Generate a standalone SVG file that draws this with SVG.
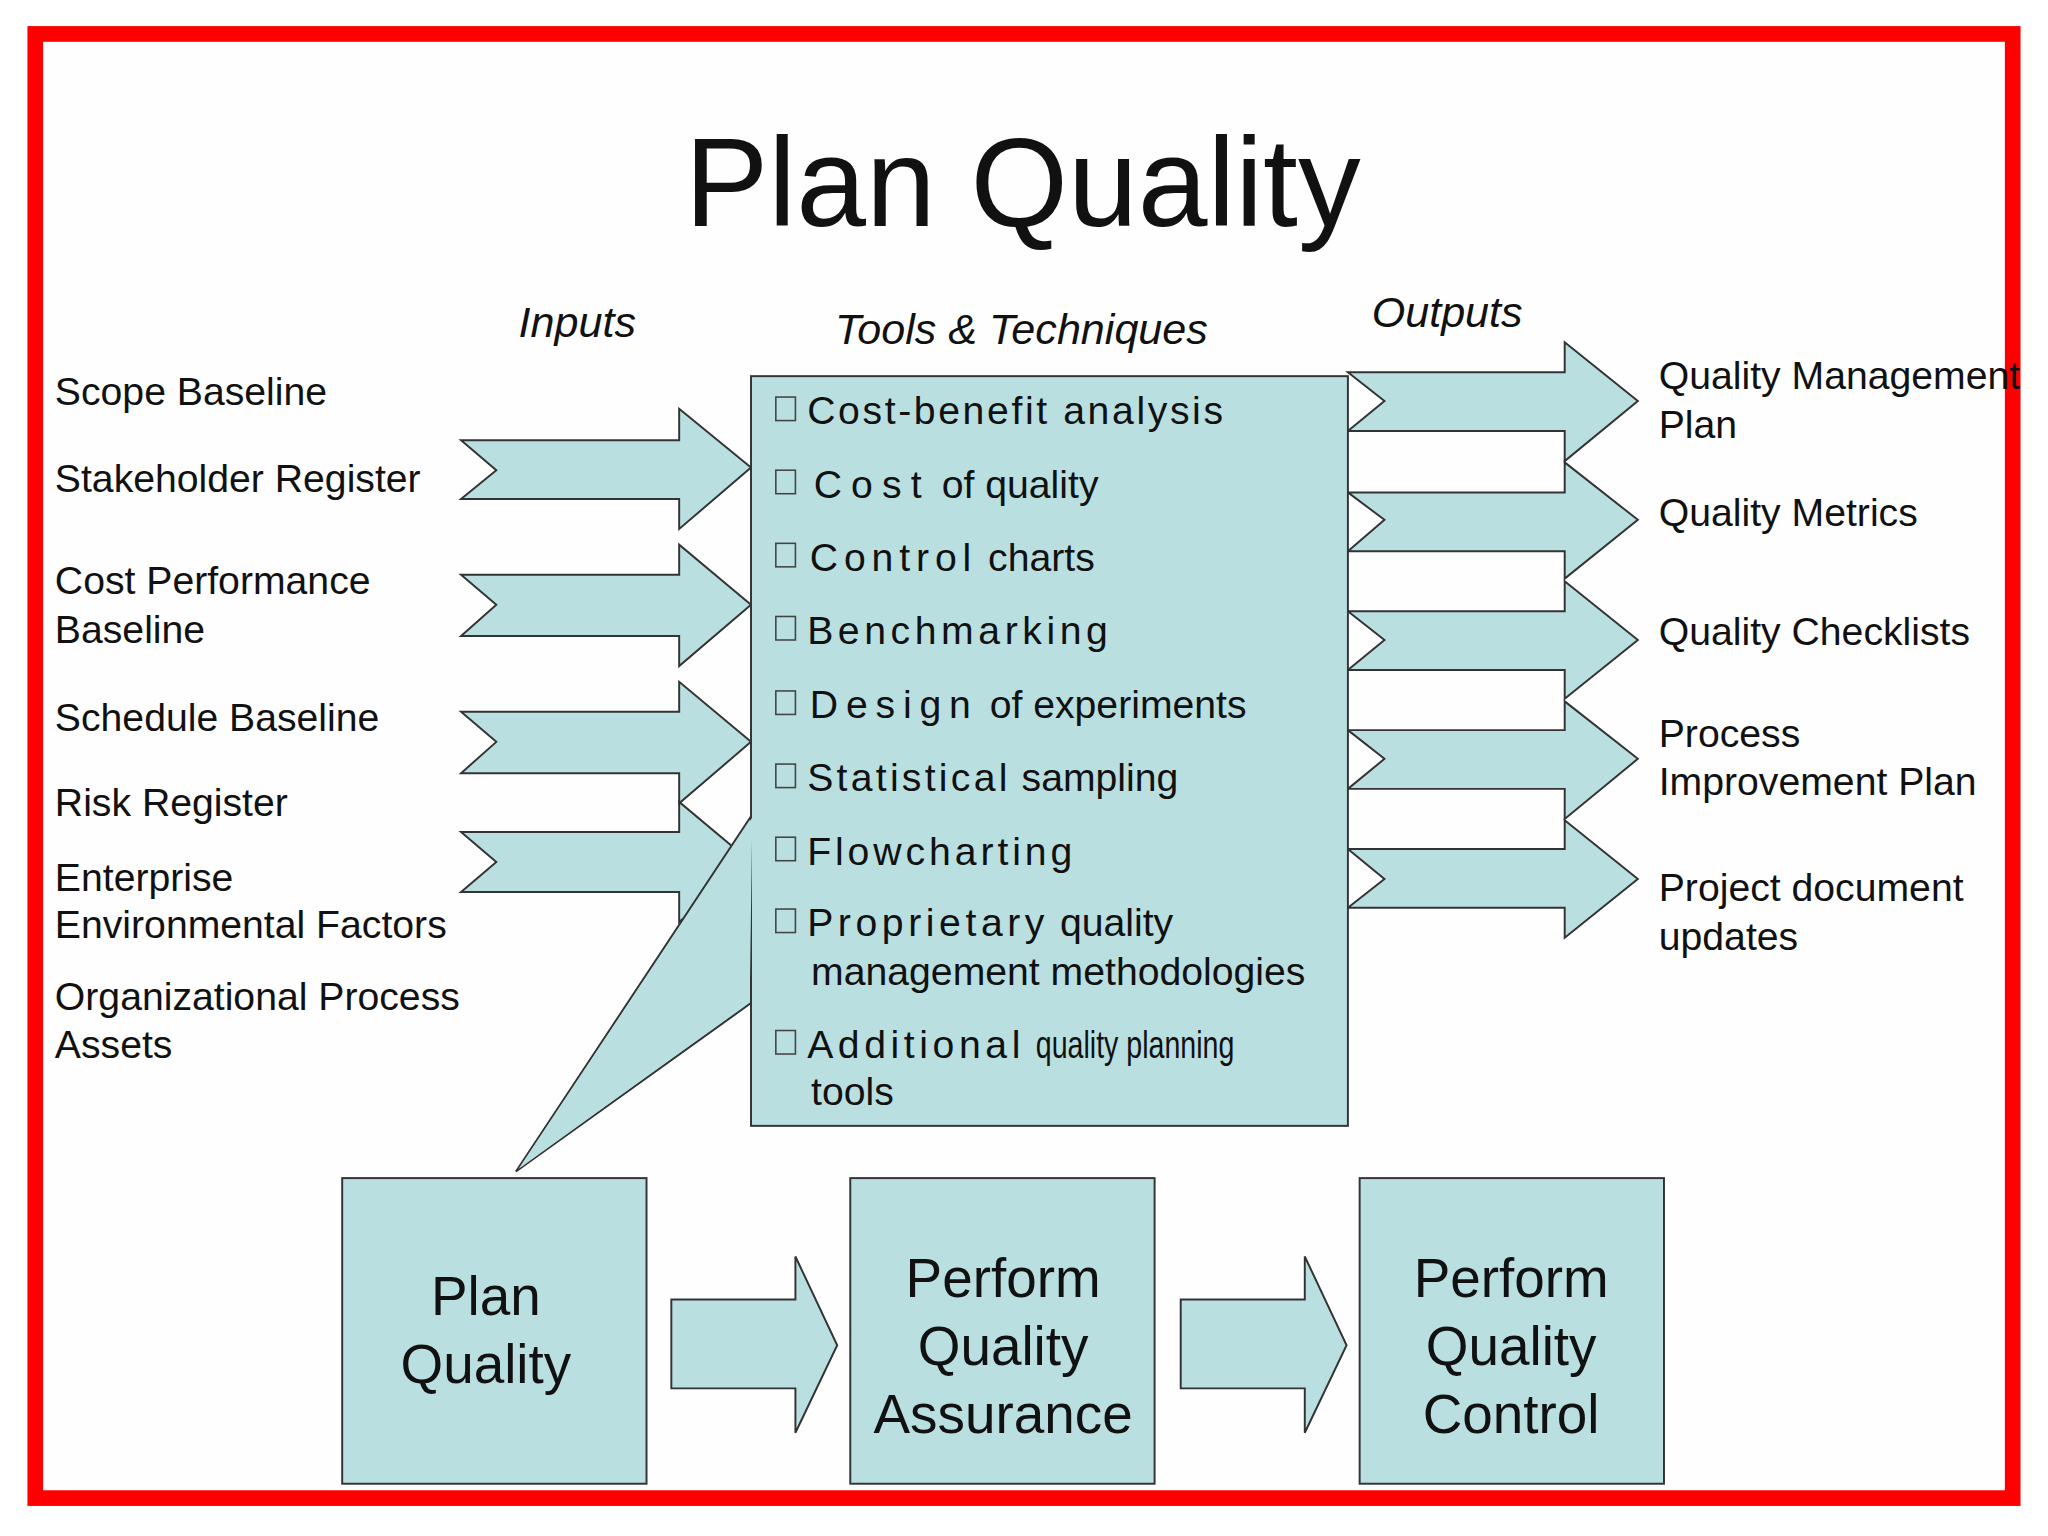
<svg xmlns="http://www.w3.org/2000/svg" width="2048" height="1536" viewBox="0 0 2048 1536">
<style>
.s{fill:#badfe0;stroke:#333;stroke-width:1.5}
.t{font-family:"Liberation Sans",Arial,sans-serif;fill:#111}
.l{font-size:30px}
.h{font-size:33px;font-style:italic}
.k{font-size:30px}
.b{font-size:42px;text-anchor:middle}
.c{fill:none;stroke:#444;stroke-width:1.2}
</style>
<rect width="2048" height="1536" fill="#fff"/>
<g transform="scale(1.3061)">
<rect x="27" y="26" width="1514" height="1121" fill="#fefefe" stroke="#f00" stroke-width="12"/>
<text class="t" x="783" y="173" font-size="96" text-anchor="middle">Plan Quality</text>
<text class="t h" x="442" y="258" text-anchor="middle">Inputs</text>
<text class="t h" x="782" y="263" text-anchor="middle">Tools &amp; Techniques</text>
<text class="t h" x="1108" y="250" text-anchor="middle">Outputs</text>
<g id="inputs" class="t l">
<text x="42" y="310">Scope Baseline</text>
<text x="42" y="377">Stakeholder Register</text>
<text x="42" y="455">Cost Performance</text>
<text x="42" y="492">Baseline</text>
<text x="42" y="560">Schedule Baseline</text>
<text x="42" y="625">Risk Register</text>
<text x="42" y="682">Enterprise</text>
<text x="42" y="718">Environmental Factors</text>
<text x="42" y="773">Organizational Process</text>
<text x="42" y="810">Assets</text>
</g>
<g id="connectors">
<polygon class="s" points="353,337 520,337 520,313 575,358 520,405 520,382 353,382 380,360"/>
<polygon class="s" points="353,440 520,440 520,417 575,463 520,510 520,487 353,487 380,463"/>
<polygon class="s" points="353,545 520,545 520,522 575,568 520,615 520,592 353,592 380,568"/>
<polygon class="s" points="353,637 520,637 520,614 575,660 520,706 520,683 353,683 380,660"/>
<polygon class="s" points="1032,285 1198,285 1198,262 1254,307 1198,353 1198,330 1032,330 1060,307"/>
<polygon class="s" points="1032,377 1198,377 1198,354 1254,398 1198,443 1198,422 1032,422 1060,398"/>
<polygon class="s" points="1032,468 1198,468 1198,445 1254,490 1198,535 1198,513 1032,513 1060,490"/>
<polygon class="s" points="1032,559 1198,559 1198,537 1254,581 1198,627 1198,604 1032,604 1060,581"/>
<polygon class="s" points="1032,650 1198,650 1198,628 1254,673 1198,718 1198,695 1032,695 1060,673"/>
<polygon class="s" points="514,995 609,995 609,962 641,1030 609,1097 609,1063 514,1063"/>
<polygon class="s" points="904,995 999,995 999,962 1031,1030 999,1097 999,1063 904,1063"/>
</g>
<g id="tools">
<polygon class="s" points="575,625 395,897 575,768"/>
<rect class="s" x="575" y="288" width="457" height="574"/>
<polygon points="576,626 397,895 574,767" fill="#badfe0"/>
<g class="c">
<rect x="594" y="304" width="15" height="18"/><rect x="594" y="360" width="15" height="18"/>
<rect x="594" y="416" width="15" height="18"/><rect x="594" y="472" width="15" height="18"/>
<rect x="594" y="529" width="15" height="18"/><rect x="594" y="585" width="15" height="18"/>
<rect x="594" y="641" width="15" height="18"/><rect x="594" y="696" width="15" height="18"/>
<rect x="594" y="789" width="15" height="18"/>
</g>
<g class="t k">
<text x="618" y="325" letter-spacing="2">Cost-benefit analysis</text>
<text x="623" y="381"><tspan letter-spacing="7">Cost</tspan> of quality</text>
<text x="620" y="437"><tspan letter-spacing="4.5">Control</tspan> charts</text>
<text x="618" y="493" letter-spacing="3.5">Benchmarking</text>
<text x="620" y="550"><tspan letter-spacing="6">Design</tspan> of experiments</text>
<text x="618" y="606"><tspan letter-spacing="2.5">Statistical</tspan> sampling</text>
<text x="618" y="662" letter-spacing="3">Flowcharting</text>
<text x="618" y="717"><tspan letter-spacing="3.5">Proprietary</tspan> quality</text>
<text x="621" y="754">management methodologies</text>
<text x="618" y="810"><tspan letter-spacing="3.5">Additional</tspan> <tspan textLength="152" lengthAdjust="spacingAndGlyphs">quality planning</tspan></text>
<text x="621" y="846">tools</text>
</g>
</g>
<g id="outputs" class="t l">
<text x="1270" y="298">Quality Management</text>
<text x="1270" y="335">Plan</text>
<text x="1270" y="403">Quality Metrics</text>
<text x="1270" y="494">Quality Checklists</text>
<text x="1270" y="572">Process</text>
<text x="1270" y="609">Improvement Plan</text>
<text x="1270" y="690">Project document</text>
<text x="1270" y="727">updates</text>
</g>
<g id="plan">
<rect class="s" x="262" y="902" width="233" height="234"/>
<text class="t b" x="372" y="1007">Plan</text><text class="t b" x="372" y="1059">Quality</text>
</g>
<g id="assurance">
<rect class="s" x="651" y="902" width="233" height="234"/>
<text class="t b" x="768" y="993">Perform</text><text class="t b" x="768" y="1045">Quality</text><text class="t b" x="768" y="1097">Assurance</text>
</g>
<g id="control">
<rect class="s" x="1041" y="902" width="233" height="234"/>
<text class="t b" x="1157" y="993">Perform</text><text class="t b" x="1157" y="1045">Quality</text><text class="t b" x="1157" y="1097">Control</text>
</g>
</g>
</svg>
